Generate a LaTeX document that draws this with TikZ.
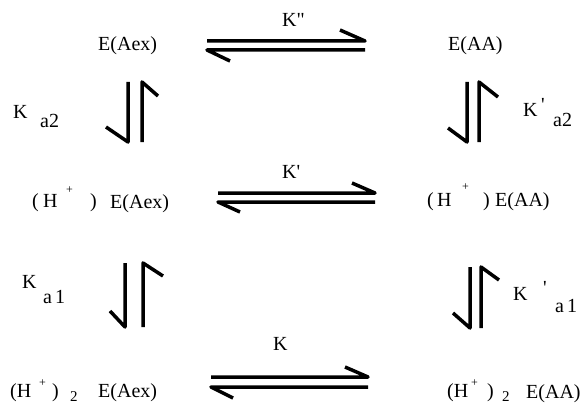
\documentclass[tikz,border=0pt]{standalone}
\usepackage{fontspec}
\setmainfont{Liberation Serif}[Ligatures=TeXOff]
\begin{document}
\begin{tikzpicture}[x=1pt,y=-1pt,
  txt/.style={anchor=base west, inner sep=0pt, font=\fontsize{20}{20}\selectfont},
  smalltxt/.style={anchor=base west, inner sep=0pt, font=\fontsize{12}{12}\selectfont},
  midtxt/.style={anchor=base west, inner sep=0pt, font=\fontsize{15}{15}\selectfont},
  harp/.style={line width=3.5pt, line cap=butt, line join=round}]
\useasboundingbox (0,0) rectangle (587,404);

% ---------- top row ----------
\node[txt] (eaexA) at (98,51) {E(Aex)};
\node[txt] (kpp) at (282,27) {K\char"22};
\node[txt] (eaaA) at (448,51) {E(AA)};
\coordinate (t1) at (207,41); \coordinate (t2) at (365,41); \coordinate (t3) at (340,30);
\coordinate (t4) at (365,50); \coordinate (t5) at (207,50); \coordinate (t6) at (230,61);
\draw[harp] (t3) -- (t2) -- (t1);
\draw[harp] (t4) -- (t5) -- (t6);

% ---------- upper left vertical ----------
\coordinate (v1) at (128,82); \coordinate (v2) at (128,142); \coordinate (v3) at (106,127);
\coordinate (v4) at (142,142); \coordinate (v5) at (142,82); \coordinate (v6) at (158,96);
\draw[harp] (v1) -- (v2) -- (v3);
\draw[harp] (v4) -- (v5) -- (v6);
\node[txt] (ka2) at (13,118) {K};
\node[txt] (ka2s) at (40,128) {a2};

% ---------- upper right vertical ----------
\coordinate (w1) at (467,82); \coordinate (w2) at (467,142); \coordinate (w3) at (448,128);
\coordinate (w4) at (479,142); \coordinate (w5) at (479,82); \coordinate (w6) at (498,97);
\draw[harp] (w1) -- (w2) -- (w3);
\draw[harp] (w4) -- (w5) -- (w6);
\node[txt] (kpa2) at (523,117) {K};
\node[txt] (kpa2p) at (541,112) {\char"27};
\node[txt] (kpa2s) at (553,127) {a2};

% ---------- middle row ----------
\node[txt] (lpB) at (32,207) {(};
\node[txt] (hB) at (43,207) {H};
\node[smalltxt] (plB) at (66,193) {+};
\node[txt] (rpB) at (90,207) {)};
\node[txt] (eaexB) at (110,208) {E(Aex)};
\node[txt] (kp) at (282,178) {K\char"27};
\coordinate (m1) at (218,193); \coordinate (m2) at (375,193); \coordinate (m3) at (352,183);
\coordinate (m4) at (375,202); \coordinate (m5) at (218,202); \coordinate (m6) at (240,212);
\draw[harp] (m3) -- (m2) -- (m1);
\draw[harp] (m4) -- (m5) -- (m6);
\node[txt] (lpC) at (427,206) {(};
\node[txt] (hC) at (437,206) {H};
\node[smalltxt] (plC) at (462,190) {+};
\node[txt] (rpC) at (483,206) {)};
\node[txt] (eaaB) at (495,206) {E(AA)};

% ---------- lower left vertical ----------
\coordinate (x1) at (125,263); \coordinate (x2) at (125,327); \coordinate (x3) at (110,311);
\coordinate (x4) at (143,327); \coordinate (x5) at (143,263); \coordinate (x6) at (163,276);
\draw[harp] (x1) -- (x2) -- (x3);
\draw[harp] (x4) -- (x5) -- (x6);
\node[txt] (ka1) at (22,288) {K};
\node[txt] (ka1s) at (43,303) {a\hspace{3pt}1};

% ---------- lower right vertical ----------
\coordinate (y1) at (470,267); \coordinate (y2) at (470,328); \coordinate (y3) at (453,313);
\coordinate (y4) at (481,328); \coordinate (y5) at (481,267); \coordinate (y6) at (499,280);
\draw[harp] (y1) -- (y2) -- (y3);
\draw[harp] (y4) -- (y5) -- (y6);
\node[txt] (kpa1) at (513,300) {K};
\node[txt] (kpa1p) at (543,294) {\char"27};
\node[txt] (kpa1s) at (555,312) {a\hspace{3pt}1};

% ---------- bottom row ----------
\node[txt] (k) at (273,350) {K};
\coordinate (b1) at (211,377); \coordinate (b2) at (368,377); \coordinate (b3) at (345,367);
\coordinate (b4) at (368,387); \coordinate (b5) at (211,387); \coordinate (b6) at (233,398);
\draw[harp] (b3) -- (b2) -- (b1);
\draw[harp] (b4) -- (b5) -- (b6);
\node[txt] (lpD) at (10,397) {(H};
\node[smalltxt] (plD) at (39,386) {+};
\node[txt] (rpD) at (52,397) {)};
\node[midtxt] (twoD) at (70,401) {2};
\node[txt] (eaexD) at (98,397) {E(Aex)};
\node[txt] (lpE) at (447,397) {(H};
\node[smalltxt] (plE) at (471,386) {+};
\node[txt] (rpE) at (487,397) {)};
\node[midtxt] (twoE) at (502,401) {2};
\node[txt] (eaaD) at (526,398) {E(AA)};
\end{tikzpicture}
\end{document}
